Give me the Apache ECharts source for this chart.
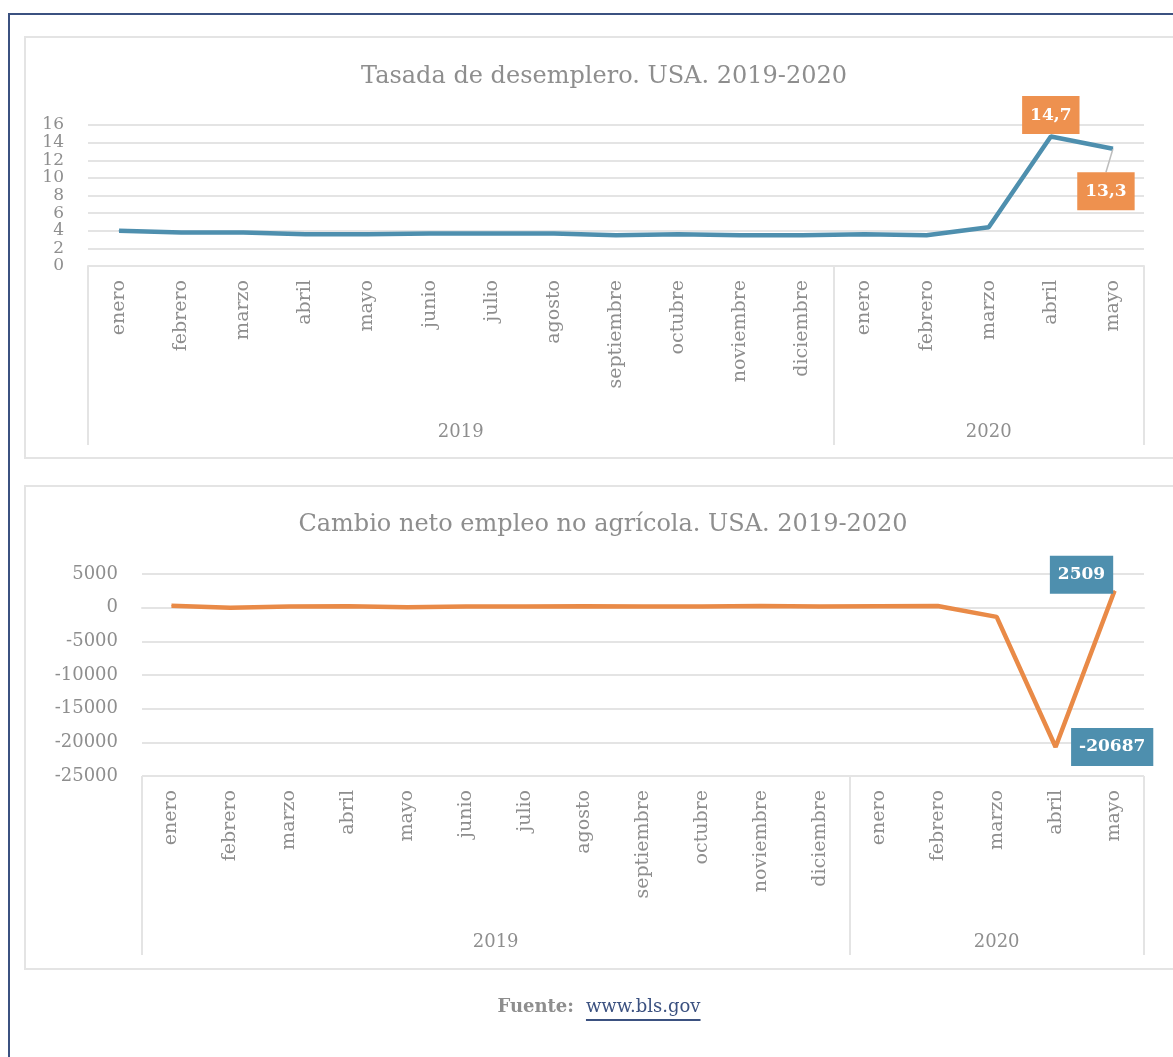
<!DOCTYPE html>
<html>
<head>
<meta charset="utf-8">
<title>Tasa de desempleo y empleo no agrícola. USA 2019-2020</title>
<script src="https://cdn.jsdelivr.net/npm/echarts@6/dist/echarts.min.js"></script>
<style>
  html, body { margin: 0; padding: 0; background: #ffffff; }
  #chart { width: 1173px; height: 1057px; }
</style>
</head>
<body>
<div id="chart"></div>
<script>
// Months, Jan 2019 – May 2020
const months = ['enero','febrero','marzo','abril','mayo','junio','julio','agosto',
  'septiembre','octubre','noviembre','diciembre','enero','febrero','marzo','abril','mayo'];
const years = ['2019', '2020'];
const yearBreaks = [0, 12, 17];          // category index where each year group starts/ends

// Unemployment rate (%)
const unemployment = [4.0, 3.8, 3.8, 3.6, 3.6, 3.7, 3.7, 3.7, 3.5, 3.6, 3.5, 3.5, 3.6, 3.5, 4.4, 14.7, 13.3];
// Net change in nonfarm employment (thousands)
const payrolls = [268, 1, 189, 216, 62, 178, 166, 219, 180, 185, 261, 184, 214, 251, -1373, -20687, 2509];

const rateTicks = { min: 0, max: 16, interval: 2 };
const jobsTicks = { min: -25000, max: 5000, interval: 5000 };

const FONT = 'DejaVu Serif';
const GREY = '#8e8e8e';
const LINE_GREY = '#e4e4e4';
const BLUE = '#4e8fae';
const ORANGE = '#e98a47';
const ORANGE_BOX = '#ee914f';
const NAVY = '#3b5180';

const yearMid = years.map((y, i) => (yearBreaks[i] + yearBreaks[i + 1]) / 2);

const chart = echarts.init(document.getElementById('chart'), null, { renderer: 'canvas' });

function monthAxis(gridIndex) {
  return {
    type: 'category', gridIndex, data: months, boundaryGap: true,
    axisLine: { show: true, lineStyle: { color: LINE_GREY, width: 2 } },
    axisTick: { show: false },
    axisLabel: { interval: 0, rotate: 90, margin: 14, color: GREY, fontFamily: FONT, fontSize: 19 },
    splitLine: { show: false }
  };
}

// Value axis over the same grid that draws the year group box and year names
function yearAxis(gridIndex, tickLen, labelMargin) {
  return {
    type: 'value', gridIndex, min: 0, max: months.length, position: 'bottom',
    axisLine: { show: false },
    splitLine: { show: false },
    axisTick: { show: true, customValues: yearBreaks, length: tickLen, inside: false,
      lineStyle: { color: LINE_GREY, width: 2 } },
    axisLabel: { show: true, customValues: yearMid, margin: labelMargin, color: GREY,
      fontFamily: FONT, fontSize: 18,
      formatter: v => years[yearMid.indexOf(v)] }
  };
}

function valueAxis(gridIndex, ticks, fontSize, margin) {
  return {
    type: 'value', gridIndex, min: ticks.min, max: ticks.max, interval: ticks.interval,
    axisLine: { show: false }, axisTick: { show: false },
    axisLabel: { color: GREY, fontFamily: FONT, fontSize, margin, formatter: v => String(v),
      showMinLabel: true, showMaxLabel: true, hideOverlap: false },
    splitLine: { lineStyle: { color: LINE_GREY, width: 2 } }
  };
}

const fmtEs = v => String(v).replace('.', ',');

const boxLabel = (bg, extra) => Object.assign({
  show: true, color: '#ffffff', fontFamily: FONT, fontWeight: 'bold', fontSize: 17,
  backgroundColor: bg, padding: [11, 8, 10, 8],
  formatter: p => fmtEs(p.value)
}, extra);

const rateData = unemployment.map((v, i) => {
  if (i === 15) return { value: v, label: boxLabel(ORANGE_BOX, { position: 'top', distance: 2 }) };
  if (i === 16) return { value: v, label: boxLabel(ORANGE_BOX, { position: 'bottom', distance: 23, offset: [-7, 0] }),
    labelLine: { show: true, lineStyle: { color: '#bdbdbd', width: 1.5 } } };
  return v;
});

const jobsData = payrolls.map((v, i) => {
  if (i === 15) return { value: v, label: boxLabel(BLUE, { position: 'right', distance: 15 }) };
  if (i === 16) return { value: v, label: boxLabel(BLUE, { position: 'inside', offset: [-33, -16] }) };
  return v;
});

const option = {
  animation: false,
  backgroundColor: '#ffffff',
  textStyle: { fontFamily: FONT },
  title: [
    { text: 'Tasada de desemplero. USA. 2019-2020', left: 599, top: 60, textAlign: 'center',
      textStyle: { color: GREY, fontFamily: FONT, fontWeight: 'normal', fontSize: 24 } },
    { text: 'Cambio neto empleo no agrícola. USA. 2019-2020', left: 598, top: 508, textAlign: 'center',
      textStyle: { color: GREY, fontFamily: FONT, fontWeight: 'normal', fontSize: 24 } }
  ],
  grid: [
    { left: 88, right: 29, top: 125, height: 141 },
    { left: 142, right: 29, top: 574, height: 202 }
  ],
  xAxis: [
    monthAxis(0), yearAxis(0, 179, 157),
    monthAxis(1), yearAxis(1, 179, 157)
  ],
  yAxis: [
    valueAxis(0, rateTicks, 17, 24),
    valueAxis(1, jobsTicks, 18, 24)
  ],
  series: [
    { type: 'line', xAxisIndex: 0, yAxisIndex: 0, data: rateData,
      symbol: 'circle', symbolSize: 1, showSymbol: true,
      itemStyle: { color: BLUE }, lineStyle: { color: BLUE, width: 4.5 }, z: 5 },
    { type: 'line', xAxisIndex: 2, yAxisIndex: 1, data: jobsData,
      symbol: 'circle', symbolSize: 1, showSymbol: true,
      itemStyle: { color: ORANGE }, lineStyle: { color: ORANGE, width: 4.5 }, z: 5 }
  ],
  graphic: []
};

chart.setOption(option);

// Frames and source note
const ctx = document.createElement('canvas').getContext('2d');
ctx.font = '18px "' + FONT + '"';
const linkText = 'www.bls.gov';
const linkW = ctx.measureText(linkText).width;
ctx.font = 'bold 18px "' + FONT + '"';
const srcText = 'Fuente:';
const srcW = ctx.measureText(srcText).width;
const gap = 12;
const srcLeft = 599 - (srcW + gap + linkW) / 2;

chart.setOption({
  graphic: [
    { type: 'rect', silent: true, z: -10, shape: { x: 9, y: 14, width: 1200, height: 1100 },
      style: { fill: 'none', stroke: NAVY, lineWidth: 2 } },
    { type: 'rect', silent: true, z: -9, shape: { x: 25, y: 37, width: 1200, height: 421 },
      style: { fill: 'none', stroke: LINE_GREY, lineWidth: 2 } },
    { type: 'rect', silent: true, z: -9, shape: { x: 25, y: 486, width: 1200, height: 483 },
      style: { fill: 'none', stroke: LINE_GREY, lineWidth: 2 } },
    { type: 'text', silent: true, x: srcLeft, y: 998,
      style: { text: srcText, font: 'bold 18px "' + FONT + '"', fill: GREY } },
    { type: 'text', silent: true, x: srcLeft + srcW + gap, y: 998,
      style: { text: linkText, font: '18px "' + FONT + '"', fill: NAVY } },
    { type: 'line', silent: true, shape: { x1: srcLeft + srcW + gap, y1: 1020, x2: srcLeft + srcW + gap + linkW, y2: 1020 },
      style: { stroke: NAVY, lineWidth: 2 } }
  ]
});
</script>
</body>
</html>
